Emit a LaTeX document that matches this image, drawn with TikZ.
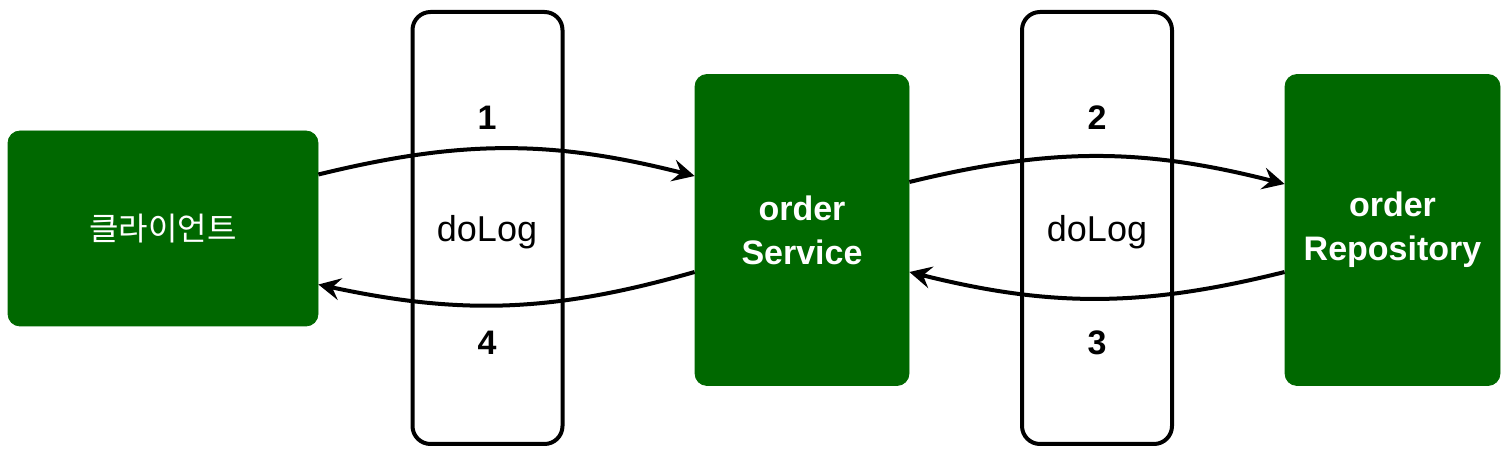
\documentclass[tikz,border=0pt]{standalone}
\usepackage{fontspec}
\setmainfont{Liberation Sans}
\newfontfamily\krfont{Noto Sans CJK KR}
\usetikzlibrary{arrows.meta,positioning}
\definecolor{boxgreen}{HTML}{006800}

\begin{document}
\begin{tikzpicture}[x=0.5pt,y=-0.5pt,
    greenbox/.style={fill=boxgreen, draw=boxgreen, rounded corners=6pt, text=white, align=center, inner sep=0pt, font=\bfseries\fontsize{17}{22}\selectfont},
    logbox/.style={draw=black, line width=2pt, rounded corners=9pt, minimum width=75pt, minimum height=216pt, inner sep=0pt},
    loglbl/.style={font=\fontsize{18}{22}\selectfont},
    numlbl/.style={font=\bfseries\fontsize{17}{22}\selectfont},
    flow/.style={line width=2pt, -{Stealth[length=11pt,width=11pt,inset=4pt]}}]
        \useasboundingbox (0,0) rectangle (1510,458);
        % boxes
        \node[greenbox, minimum width=155pt, minimum height=97.5pt, font=\krfont\fontsize{16}{18}\selectfont] (client) at (163,228.5) {클라이언트};
        \node[greenbox, minimum width=107pt, minimum height=155.5pt] (svc) at (802,230) {order\\Service};
        \node[greenbox, minimum width=107.5pt, minimum height=155.5pt] (repo) at (1392.5,230) {order\\Repository};
        % proxies
        \node[logbox] (log1) at (487.5,228) {};
        \node[logbox] (log2) at (1097,228) {};
        \node[loglbl] (l1) at (487,232) {doLog};
        \node[loglbl] (l2) at (1097,232) {doLog};
        \node[numlbl] (n1) at (487,118) {1};
        \node[numlbl] (n4) at (487,343) {4};
        \node[numlbl] (n2) at (1097,118) {2};
        \node[numlbl] (n3) at (1097,343) {3};
        % calls
        \draw[flow] ([yshift=27pt]client.east) to[bend left=14] ([yshift=27pt]svc.west);
        \draw[flow] ([yshift=-21pt]svc.west) to[bend left=14] ([yshift=-28pt]client.east);
        \draw[flow] ([yshift=24pt]svc.east) to[bend left=14] ([yshift=23pt]repo.west);
        \draw[flow] ([yshift=-21pt]repo.west) to[bend left=14] ([yshift=-21pt]svc.east);
    \end{tikzpicture}
\end{document}
